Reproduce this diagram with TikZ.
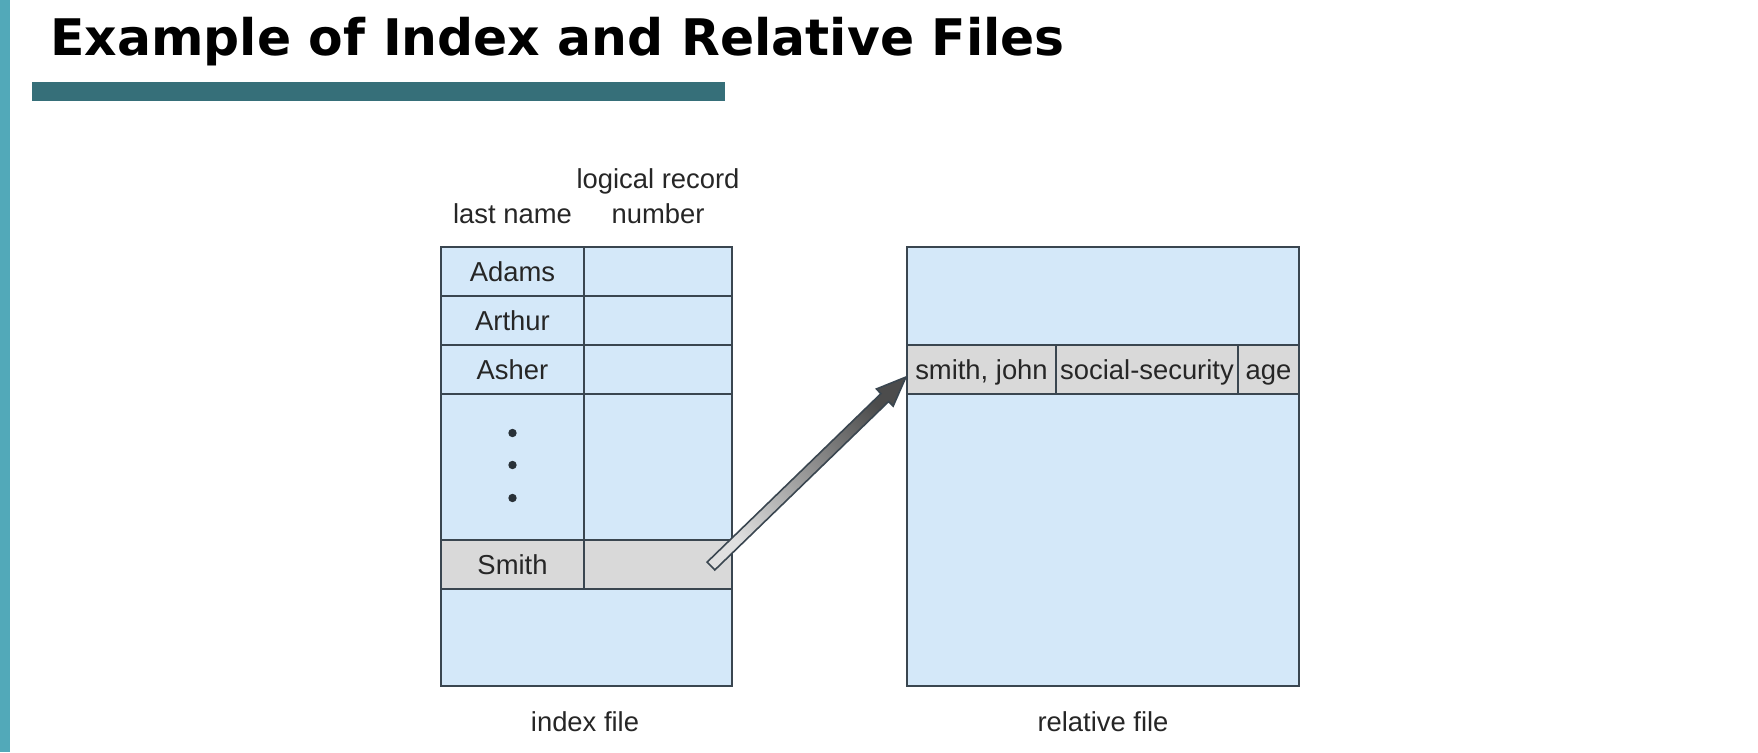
\documentclass[tikz,border=0pt]{standalone}
\usepackage{fontspec}
\setmainfont{Liberation Sans}
\newfontfamily\titlefont{DejaVu Sans}
\usetikzlibrary{calc}

\definecolor{filebg}{HTML}{D4E8F9}
\definecolor{rowgray}{HTML}{D9D9D9}
\definecolor{gridline}{HTML}{3A4650}
\definecolor{barteal}{HTML}{366F79}
\definecolor{stripteal}{HTML}{52A9B9}

\tikzset{
  filebox/.style={draw=gridline, line width=1pt},
  celltext/.style={font=\fontsize{13.7}{17.5}\selectfont, text=black!85, inner sep=0pt, text height=9.8pt, text depth=0pt},
}

\begin{document}
\begin{tikzpicture}[x=0.5pt, y=-0.5pt]
        \useasboundingbox (0,0) rectangle (1758,752);
        \fill [stripteal] (0,0) rectangle (10,752); % side strip
        \node [anchor=base west, inner sep=0pt, font=\titlefont\bfseries\fontsize{25.2}{29}\selectfont] (title) at (50,55) {Example of Index and Relative Files};
        \fill [barteal] (32,82) rectangle (725,101); % bar under title

        % index file
        \draw [filebox, fill=filebg] (441,247) rectangle (732,686);
        \draw [filebox, fill=rowgray] (441,540) rectangle (732,589); % Smith row
        \foreach \y in {296,345,394} \draw [filebox] (441,\y)--(732,\y);
        \draw [filebox] (584,247)--(584,589);
        \foreach \name/\y in {Adams/271.5, Arthur/320.5, Asher/369.5, Smith/564.5}
            \node [celltext] (\name) at (512.5,\y) {\name};
        \foreach \y in {433,465,498} \fill [gridline!70!black] (512.5,\y) circle (2.1pt);

        \node [celltext] (lastname) at (512.5,214) {last name};
        \node [celltext] (reclogical) at (658,179) {logical record};
        \node [celltext] (recnumber) at (658,214) {number};
        \node [celltext] (indexcap) at (585,722) {index file};

        % relative file
        \draw [filebox, fill=filebg] (907,247) rectangle (1299,686);
        \draw [filebox, fill=rowgray] (907,345) rectangle (1299,394); % record of smith
        \draw [filebox] (1056,345)--(1056,394) (1238,345)--(1238,394);
        \node [celltext] (fullname) at (981.5,369.5) {smith, john};
        \node [celltext] (ssn) at (1147,369.5) {social-security};
        \node [celltext] (age) at (1268.5,369.5) {age};
        \node [celltext] (relcap) at (1103,722) {relative file};

        % pointer from index entry to record
        \coordinate (ptrtail) at (711,566);
        \coordinate (ptrtip) at (906,377);
        \coordinate (ptrneck) at ($(ptrtail)!121pt!(ptrtip)$);
        \path [draw=gridline, line width=0.8pt, top color=black!70, bottom color=black!12, shading angle=-46]
            ($(ptrtail)!2.75pt!90:(ptrtip)$) -- ($(ptrneck)!2.75pt!90:(ptrtip)$)
            -- ($(ptrneck)!6pt!90:(ptrtip)$) -- (ptrtip)
            -- ($(ptrneck)!6pt!-90:(ptrtip)$) -- ($(ptrneck)!2.75pt!-90:(ptrtip)$)
            -- ($(ptrtail)!2.75pt!-90:(ptrtip)$) -- cycle;
    \end{tikzpicture}
\end{document}
